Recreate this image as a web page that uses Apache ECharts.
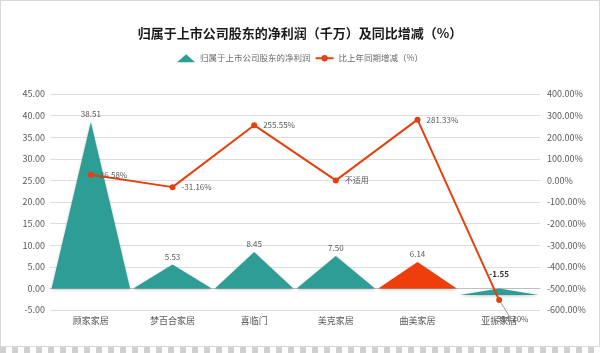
<!DOCTYPE html>
<html><head><meta charset="utf-8">
<script src="https://cdn.jsdelivr.net/npm/echarts@6/dist/echarts.min.js"></script>
<style>
html,body{margin:0;padding:0;width:600px;height:353px;overflow:hidden;
background:repeating-linear-gradient(90deg,#d0d0d0 0 6px,#ffffff 6px 12px);}
#c{position:absolute;left:0;top:0;width:598px;height:345px;background:#fff;border:1px solid #d9d9d9;}
</style></head>
<body><div id="c"></div>
<script>
var categories = ['顾家家居','梦百合家居','喜临门','美克家居','曲美家居','亚振家居'];
var netProfit = [38.51, 5.53, 8.45, 7.50, 6.14, -1.55];
var yoyChange = [26.58, -31.16, 255.55, 0, 281.33, -554.10];
var yoyLabels = ['26.58%', '-31.16%', '255.55%', '不适用', '281.33%', '-554.10%'];
var leftTicks = {min: -5, max: 45, interval: 5};
var rightTicks = {min: -600, max: 400, interval: 100};

var teal = '#2e9d95', red = '#ee3e0c', lineColor = '#e5400f';
var font = '"Noto Sans CJK SC", "Noto Sans", sans-serif';
var chart = echarts.init(document.getElementById('c'));
chart.setOption({
  animation: false,
  textStyle: {fontFamily: font},
  title: {text: '归属于上市公司股东的净利润（千万）及同比增减（%）', left: 'center', top: 21,
    textStyle: {fontSize: 13, fontWeight: 'bold', color: '#1a1a1a', fontFamily: font}},
  legend: {top: 48, left: 'center', itemWidth: 18, itemHeight: 8, itemGap: 4,
    textStyle: {fontSize: 8.5, color: '#6b6b6b'},
    data: [{name: '归属于上市公司股东的净利润', icon: 'triangle'}, {name: '比上年同期增减（%）'}]},
  grid: {left: 49, right: 59, top: 93, bottom: 36},
  xAxis: {type: 'category', data: categories,
    axisLine: {lineStyle: {color: '#bfbfbf'}}, axisTick: {show: false},
    axisLabel: {color: '#595959', fontSize: 9, margin: 6}},
  yAxis: [
    {type: 'value', min: leftTicks.min, max: leftTicks.max, interval: leftTicks.interval,
      axisLabel: {formatter: function(v){return v.toFixed(2);}, color: '#595959', fontSize: 9, margin: 5},
      splitLine: {lineStyle: {color: '#dedede'}}, axisLine: {show: false}, axisTick: {show: false}},
    {type: 'value', min: rightTicks.min, max: rightTicks.max, interval: rightTicks.interval,
      axisLabel: {formatter: function(v){return v.toFixed(2) + '%';}, color: '#595959', fontSize: 9, margin: 7},
      splitLine: {show: false}, axisLine: {show: false}, axisTick: {show: false}}
  ],
  series: [
    {name: '归属于上市公司股东的净利润', type: 'pictorialBar', symbol: 'triangle', barCategoryGap: '2%',
      symbolSize: ['98%', '100%'],
      itemStyle: {color: teal, shadowColor: 'rgba(0,0,0,0.25)', shadowBlur: 3, shadowOffsetY: 1},
      data: netProfit.map(function(v, i){
        var d = {value: v};
        if (i === 4) d.itemStyle = {color: red};
        if (v < 0) {
          d.symbol = 'path://M0,0 L10,0 L5,10 Z';
          d.label = {position: 'top', fontWeight: 'bold', color: '#333', distance: 10};
        }
        return d;
      }),
      label: {show: true, position: 'top', fontSize: 8, color: '#595959', distance: 4,
        formatter: function(p){return p.value.toFixed(2);}}},
    {name: '比上年同期增减（%）', type: 'line', yAxisIndex: 1, symbol: 'circle', symbolSize: 6,
      itemStyle: {color: lineColor}, lineStyle: {color: lineColor, width: 2},
      data: yoyChange.map(function(v, i){
        var d = {value: v};
        if (i === 5) {
          d.label = {position: 'bottom', offset: [12, 6]};
          d.labelLine = {show: true, lineStyle: {color: '#999'}};
        }
        return d;
      }),
      label: {show: true, position: 'right', fontSize: 8, color: '#595959', distance: 6,
        formatter: function(p){return yoyLabels[p.dataIndex];}}, z: 5}
  ]
});
</script></body></html>
